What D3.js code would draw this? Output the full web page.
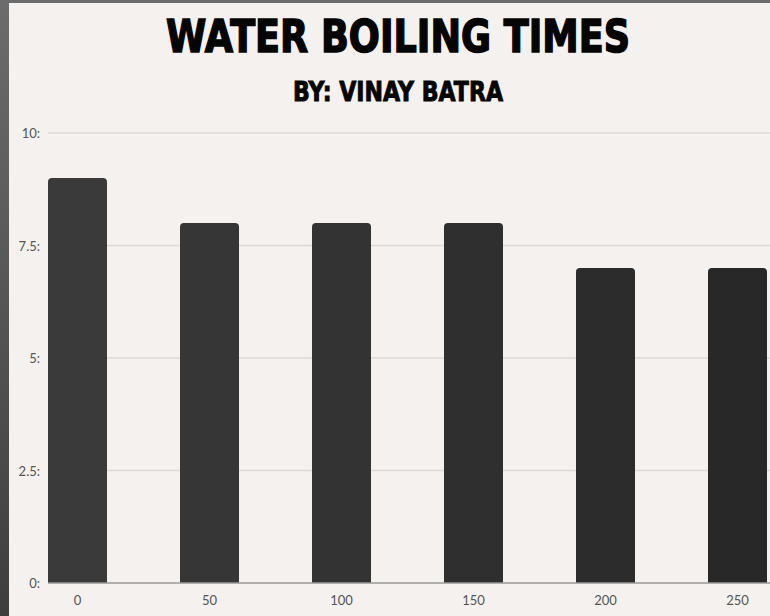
<!DOCTYPE html>
<html>
<head>
<meta charset="utf-8">
<script src="https://cdn.jsdelivr.net/npm/d3@7"></script>
<style>
  body { margin: 0; overflow: hidden; }
  svg { display: block; }
</style>
</head>
<body>
<div id="chart"></div>
<script>
// data
var temps = ["0", "50", "100", "150", "200", "250"];
var minutes = [9, 8, 8, 8, 7, 7];
var yTicks = [0, 2.5, 5, 7.5, 10];

var W = 770, H = 616;
var plot = {left: 48, right: 767, top: 133, bottom: 583};

var svg = d3.select("#chart").append("svg")
  .attr("width", W)
  .attr("height", H);

// dark frame around the page
var defs = svg.append("defs");
var frame = defs.append("linearGradient")
  .attr("id", "frame").attr("x1", 0).attr("y1", 0).attr("x2", 0).attr("y2", 1);
frame.append("stop").attr("offset", "0%").attr("stop-color", "#6c6c6c");
frame.append("stop").attr("offset", "100%").attr("stop-color", "#3e3e3e");

svg.append("rect").attr("width", W).attr("height", H).attr("fill", "url(#frame)");
svg.append("rect").attr("x", 9).attr("y", 3).attr("width", W - 9).attr("height", H - 3)
  .attr("fill", "#f4f1ee");

// titles
svg.append("text")
  .attr("x", 398).attr("y", 52)
  .attr("text-anchor", "middle")
  .attr("textLength", 464).attr("lengthAdjust", "spacingAndGlyphs")
  .style("font-family", "DejaVu Sans").style("font-weight", "bold")
  .style("font-size", "45px")
  .attr("fill", "#050505").attr("stroke", "#050505").attr("stroke-width", 1.6)
  .text("WATER BOILING TIMES");

svg.append("text")
  .attr("x", 398).attr("y", 101)
  .attr("text-anchor", "middle")
  .attr("textLength", 210).attr("lengthAdjust", "spacingAndGlyphs")
  .style("font-family", "DejaVu Sans").style("font-weight", "bold")
  .style("font-size", "27px")
  .attr("fill", "#050505").attr("stroke", "#050505").attr("stroke-width", 1)
  .text("BY: VINAY BATRA");

// scales
var x = d3.scaleBand()
  .domain(temps)
  .range([plot.left, plot.right])
  .paddingInner(0.553)
  .paddingOuter(0);

var y = d3.scaleLinear()
  .domain([0, 10])
  .range([plot.bottom, plot.top]);

// grid lines
svg.append("g")
  .selectAll("line")
  .data(yTicks.filter(function(d) { return d > 0; }))
  .enter()
  .append("line")
    .attr("x1", plot.left).attr("x2", W)
    .attr("y1", function(d) { return y(d); })
    .attr("y2", function(d) { return y(d); })
    .attr("stroke", "#dcd9d6").attr("stroke-width", 1.5);

// y labels
svg.append("g")
  .selectAll("text")
  .data(yTicks)
  .enter()
  .append("text")
    .attr("x", 40)
    .attr("y", function(d) { return y(d) + 5; })
    .attr("text-anchor", "end")
    .style("font-family", "Lato").style("font-size", "13px")
    .attr("fill", "#555")
    .text(function(d) { return d + ":"; });

// bars, rounded on top, a little darker to the right
var shade = d3.scaleLinear().domain([0, temps.length - 1]).range(["#3a3a3a", "#282828"]);

function barPath(x0, y0, w, h, r) {
  return "M" + x0 + "," + (y0 + h) +
    "V" + (y0 + r) +
    "Q" + x0 + "," + y0 + " " + (x0 + r) + "," + y0 +
    "H" + (x0 + w - r) +
    "Q" + (x0 + w) + "," + y0 + " " + (x0 + w) + "," + (y0 + r) +
    "V" + (y0 + h) + "Z";
}

svg.append("g")
  .selectAll("path")
  .data(minutes)
  .enter()
  .append("path")
    .attr("fill", function(d, i) { return shade(i); })
    .attr("d", function(d, i) {
      return barPath(x(temps[i]), y(d), x.bandwidth(), y(0) - y(d), 4);
    });

// baseline
svg.append("line")
  .attr("x1", plot.left).attr("x2", W)
  .attr("y1", y(0)).attr("y2", y(0))
  .attr("stroke", "#9a9896").attr("stroke-width", 1.5);

// x labels
svg.append("g")
  .selectAll("text")
  .data(temps)
  .enter()
  .append("text")
    .attr("x", function(d) { return x(d) + x.bandwidth() / 2; })
    .attr("y", 605)
    .attr("text-anchor", "middle")
    .style("font-family", "Lato").style("font-size", "13px")
    .attr("fill", "#555")
    .text(function(d) { return d; });
</script>
</body>
</html>
